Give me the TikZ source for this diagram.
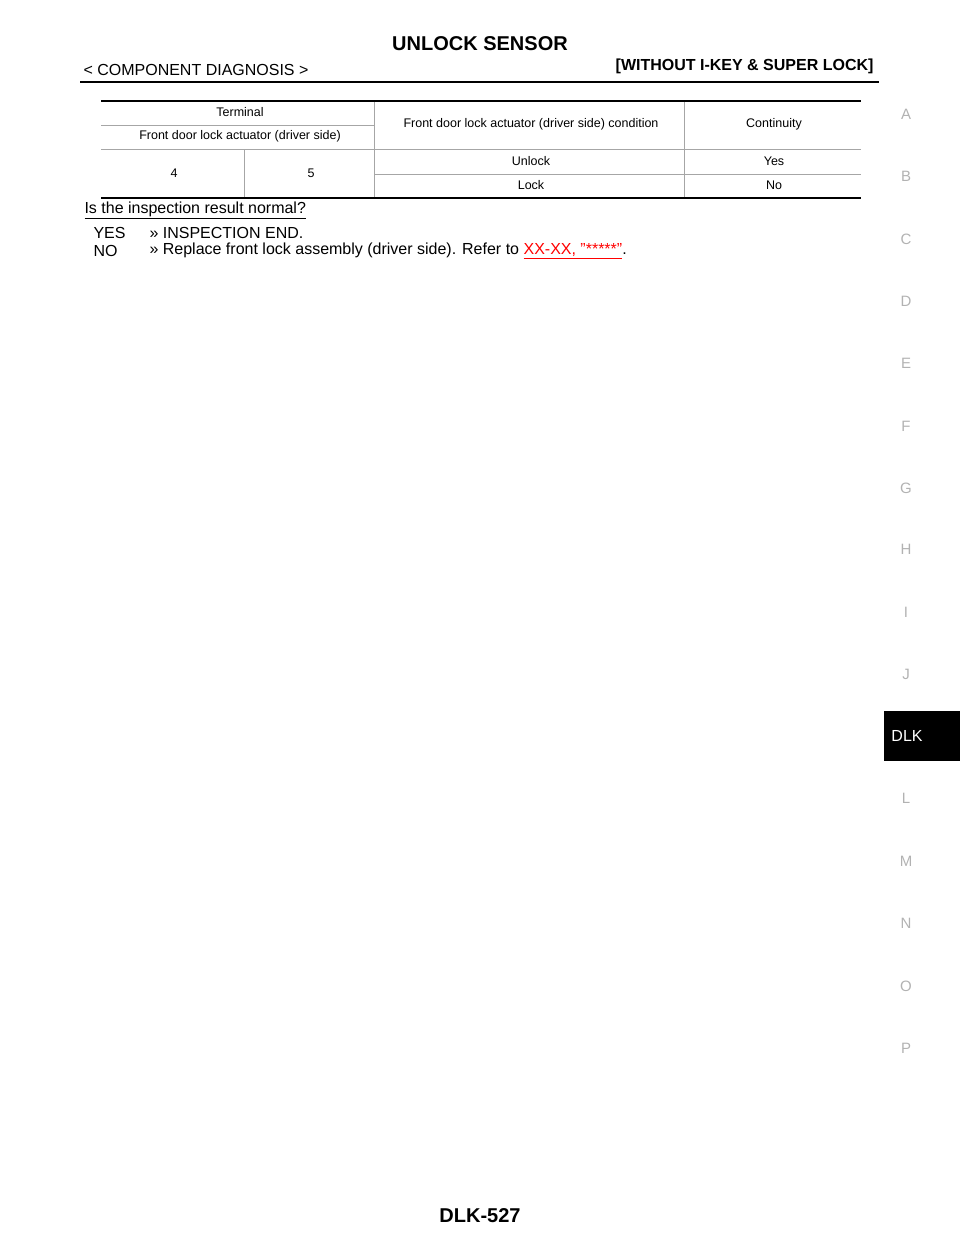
\documentclass[tikz,border=0pt]{standalone}
\usepackage{fontspec}
\setmainfont{Liberation Sans}
\begin{document}
\begin{tikzpicture}[x=1pt,y=-1pt,
  tb/.style={font=\fontsize{12.5}{14}\selectfont},
  bd/.style={font=\fontsize{16}{18}\selectfont},
  side/.style={text=gray!60,font=\fontsize{15}{17}\selectfont},
  grid/.style={draw=gray!70,line width=0.7pt},
  heavy/.style={draw=black,line width=2pt}]
\useasboundingbox (0,0) rectangle (960,1242);
\node[font=\bfseries\fontsize{20}{22}\selectfont] (title) at (480,44) {UNLOCK SENSOR};
\node[anchor=west,bd] (sub) at (80,70) {< COMPONENT DIAGNOSIS >};
\node[anchor=east,font=\bfseries\fontsize{16}{18}\selectfont] (cond) at (877,66) {[WITHOUT I-KEY \& SUPER LOCK]};
\draw[line width=2.5pt] (80,82) -- (879,82);
% table
\draw[grid] (101,125) -- (374,125);
\draw[grid] (101,149) -- (861,149);
\draw[grid] (374,174) -- (861,174);
\draw[grid] (374,101) -- (374,198);
\draw[grid] (684,101) -- (684,198);
\draw[grid] (244,149) -- (244,198);
\draw[heavy] (101,101) -- (861,101);
\draw[heavy] (101,198) -- (861,198);
\node[tb] (t1) at (240,112) {Terminal};
\node[tb] (t2) at (240,136) {Front door lock actuator (driver side)};
\node[tb] (t3) at (531,124) {Front door lock actuator (driver side) condition};
\node[tb] (t4) at (774,124) {Continuity};
\node[tb] (t5) at (174,173) {4};
\node[tb] (t6) at (311,173) {5};
\node[tb] (t7) at (531,161) {Unlock};
\node[tb] (t8) at (774,161) {Yes};
\node[tb] (t9) at (531,185) {Lock};
\node[tb] (t10) at (774,185) {No};
\node[anchor=west,bd] (q) at (81,210) {\underline{Is the inspection result normal?}};
\node[anchor=west,bd] (y1) at (90,233) {YES};
\node[anchor=west,bd] (y2) at (146,233) {>> INSPECTION END.};
\node[anchor=west,bd] (n1) at (90,251) {NO};
\node[anchor=west,bd] (n2) at (146,251) {>> Replace front lock assembly (driver side). Refer to \textcolor{red}{\underline{XX-XX, "*****"}}.};
% side index
\foreach \l/\yy in {A/114,B/176,C/239,D/301,E/363,F/426,G/488,H/549,I/612,J/674,L/798,M/861,N/923,O/986,P/1048}
  \node[side] (s\l) at (906,\yy) {\l};
\fill (884,711) rectangle (960,761);
\node[text=white,bd] (dlk) at (907,736) {DLK};
\node[font=\bfseries\fontsize{20}{22}\selectfont] (page) at (480,1216) {DLK-527};
\end{tikzpicture}
\end{document}
